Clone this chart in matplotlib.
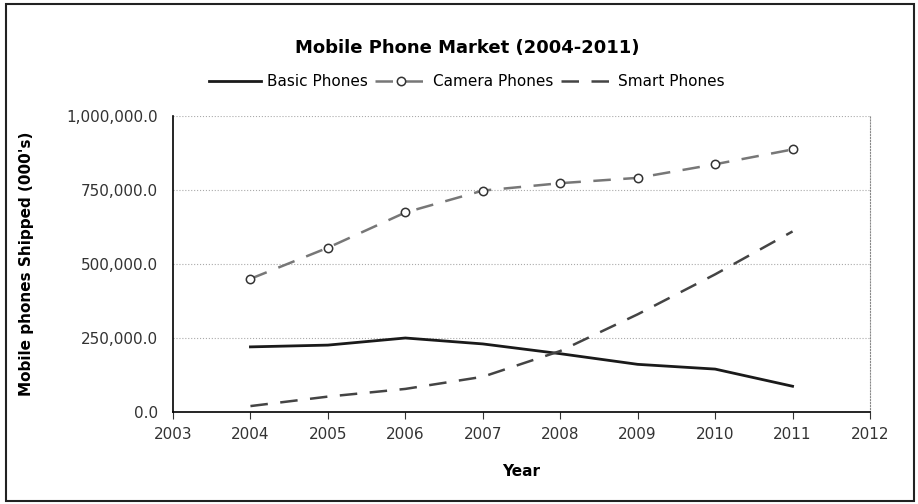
import matplotlib.pyplot as plt
from matplotlib.patches import Rectangle
from matplotlib.ticker import FuncFormatter

years = [2004, 2005, 2006, 2007, 2008, 2009, 2010, 2011]
basic = [220000, 226000, 250000, 230000, 197000, 161000, 145000, 87000]
camera = [450000, 555000, 674000, 748000, 773000, 791000, 837000, 887000]
smart = [20000, 52000, 78000, 119000, 206000, 330000, 465000, 610000]

fig = plt.figure(figsize=(9.18, 5.04), dpi=100)
# plot area in pixels: x 173..870, y 116..412
ax = fig.add_axes([173 / 918, 1 - 412 / 504, 697 / 918, 296 / 504])

ax.plot(years, basic, color='#1a1a1a', lw=2, label='Basic Phones')
ax.plot(years, camera, color='#777777', lw=1.8, ls=(0, (7, 5)), marker='o',
        markersize=6, markerfacecolor='white', markeredgecolor='#333333',
        markeredgewidth=1.1, label='Camera Phones')
ax.plot(years, smart, color='#444444', lw=1.8, ls=(0, (7, 5)), label='Smart Phones')

ax.set_xlim(2003, 2012)
ax.set_ylim(0, 1000000)
ax.set_xticks(range(2003, 2013))
ax.set_yticks([0, 250000, 500000, 750000, 1000000])
ax.yaxis.set_major_formatter(FuncFormatter(lambda v, p: f'{v:,.1f}'))
ax.tick_params(axis='both', labelsize=11, colors='#333333', length=5, direction='out')
ax.tick_params(axis='x', pad=6)
ax.tick_params(axis='y', length=0, pad=11)
ax.grid(axis='y', color='#aaaaaa', ls=':', lw=0.8)
ax.spines['top'].set_visible(False)
ax.spines['right'].set_linestyle(':')
ax.spines['right'].set_color('#888888')
ax.spines['left'].set_linewidth(1.2)
ax.spines['bottom'].set_linewidth(1.2)

ax.set_xlabel('Year', fontsize=11, fontweight='bold', labelpad=16)
ax.set_ylabel("Mobile phones Shipped (000's)", fontsize=11, fontweight='bold')
ax.yaxis.set_label_coords(-0.2, 0.5)

fig.text(467 / 918, 1 - 48 / 504, 'Mobile Phone Market (2004-2011)', ha='center', va='center',
         fontsize=13, fontweight='bold')
fig.legend(loc='center', bbox_to_anchor=(467 / 918, 1 - 82 / 504), ncol=3, frameon=False,
           fontsize=11, handlelength=3.4, columnspacing=0.5, handletextpad=0.35)

fig.add_artist(Rectangle((6 / 918, 3 / 504), 908 / 918, 497 / 504, transform=fig.transFigure,
                         fill=False, edgecolor='#222222', lw=1.5))

fig.savefig('out.png', dpi=100)
